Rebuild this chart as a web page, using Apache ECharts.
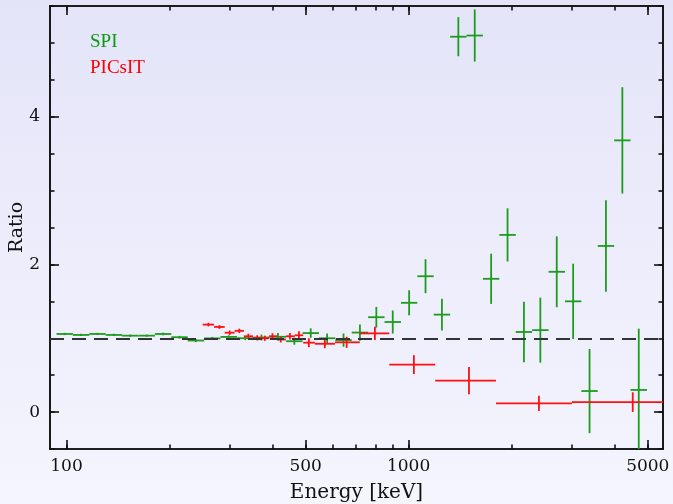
<!DOCTYPE html>
<html>
<head>
<meta charset="utf-8">
<script src="https://cdn.jsdelivr.net/npm/echarts@6/dist/echarts.min.js"></script>
<style>
html, body { margin: 0; padding: 0; }
#chart { width: 673px; height: 504px; }
</style>
</head>
<body>
<div id="chart"></div>
<script>
// SPI ratio: bin edges [keV], bin centres, ratio, 1 sigma error
const spiEdges = [93.5, 104.4, 116.6, 130.2, 145.4, 162.4, 181.3, 202.5, 226.1, 252.5, 282.0, 314.9,
  351.6, 392.7, 438.5, 489.7, 546.8, 610.6, 681.9, 761.5, 850.3, 949.6, 1060.4, 1184.2, 1322.4,
  1476.7, 1649.1, 1841.5, 2056.4, 2296.4, 2564.4, 2863.7, 3197.9, 3571.1, 3987.8, 4453.2, 4972.9]
const spiEnergy = [98.8, 110.3, 123.2, 137.6, 153.6, 171.6, 191.6, 214.0, 238.9, 266.8, 298.0, 332.8,
  371.5, 415.0, 463.4, 517.5, 577.8, 645.2, 720.6, 804.7, 898.6, 1003.5, 1120.6, 1251.4, 1397.4,
  1560.5, 1742.6, 1946.0, 2173.1, 2426.7, 2709.9, 3026.2, 3379.4, 3773.7, 4214.1, 4705.9]
const spiRatio = [1.058, 1.045, 1.058, 1.045, 1.035, 1.035, 1.058, 1.014, 0.969, 0.998, 1.018, 1.0,
  1.01, 1.02, 0.96, 1.07, 1.0, 0.975, 1.077, 1.285, 1.22, 1.48, 1.84, 1.32, 5.084,
  5.10, 1.805, 2.40, 1.085, 1.11, 1.90, 1.50, 0.285, 2.25, 3.68, 0.30]
const spiErr = [0.015, 0.015, 0.015, 0.015, 0.015, 0.015, 0.018, 0.018, 0.02, 0.02, 0.022, 0.025,
  0.04, 0.05, 0.048, 0.064, 0.064, 0.09, 0.11, 0.14, 0.156, 0.17, 0.23, 0.215, 0.265,
  0.353, 0.34, 0.36, 0.41, 0.44, 0.48, 0.51, 0.57, 0.62, 0.72, 0.83]

// PICsIT ratio
const picEdges = [250, 270, 290, 310, 330, 351, 372, 391, 413, 438, 465, 492, 532, 609, 720, 878,
  1196, 1800, 3000, 8000]
const picEnergy = [260, 280, 300, 320, 340, 361, 380, 400, 423, 450, 478, 511, 569, 659, 797, 1036,
  1501, 2404, 4519]
const picRatio = [1.185, 1.153, 1.075, 1.10, 1.027, 1.005, 1.0, 1.027, 0.983, 1.027, 1.04, 0.94,
  0.925, 0.945, 1.066, 0.643, 0.426, 0.118, 0.135]
const picErr = [0.025, 0.025, 0.03, 0.03, 0.035, 0.035, 0.035, 0.04, 0.04, 0.045, 0.055, 0.06,
  0.06, 0.075, 0.09, 0.128, 0.185, 0.104, 0.133]

const xRange = [89.5, 5540]
const yRange = [-0.5, 5.5]
const xMinorTicks = [100, 200, 300, 400, 500, 600, 700, 800, 900, 1000, 2000, 3000, 4000, 5000]
const xMajorTicks = [100, 500, 1000, 5000]
const yMinorTicks = [-0.5, 0, 0.5, 1, 1.5, 2, 2.5, 3, 3.5, 4, 4.5, 5, 5.5]
const yMajorTicks = [0, 2, 4]

const frameColor = '#111'
const fontFamily = '"DejaVu Serif", serif'

function toBars(energy, edges, ratio, err) {
  return energy.map((e, i) => [Math.log10(e), ratio[i], Math.log10(edges[i]), Math.log10(edges[i + 1]), err[i]])
}

function renderErrorBar(params, api) {
  const x = api.value(0)
  const y = api.value(1)
  const c = api.coord([x, y])
  const l = api.coord([api.value(2), y])
  const r = api.coord([api.value(3), y])
  const t = api.coord([x, y + api.value(4)])
  const b = api.coord([x, y - api.value(4)])
  const style = { stroke: api.visual('color'), lineWidth: 1.8 }
  return {
    type: 'group',
    children: [
      { type: 'line', shape: { x1: l[0], y1: c[1], x2: r[0], y2: c[1] }, style: style },
      { type: 'line', shape: { x1: c[0], y1: t[1], x2: c[0], y2: b[1] }, style: style }
    ]
  }
}

function xAxis(position, ticks, len, withLabels) {
  return {
    type: 'value',
    position: position,
    min: Math.log10(xRange[0]),
    max: Math.log10(xRange[1]),
    axisLine: { show: true, onZero: false, lineStyle: { color: frameColor, width: 1.6 } },
    axisTick: { show: true, inside: true, length: len, customValues: ticks.map(v => Math.log10(v)),
      lineStyle: { color: frameColor, width: 1.6 } },
    axisLabel: withLabels ? {
      show: true,
      customValues: xMajorTicks.map(v => Math.log10(v)),
      formatter: v => String(Math.round(Math.pow(10, v))),
      color: frameColor, fontFamily: fontFamily, fontSize: 17, margin: 9
    } : { show: false },
    splitLine: { show: false }
  }
}

function yAxis(position, ticks, len, withLabels) {
  return {
    type: 'value',
    position: position,
    min: yRange[0],
    max: yRange[1],
    axisLine: { show: true, onZero: false, lineStyle: { color: frameColor, width: 1.6 } },
    axisTick: { show: true, inside: true, length: len, customValues: ticks,
      lineStyle: { color: frameColor, width: 1.6 } },
    axisLabel: withLabels ? {
      show: true, customValues: yMajorTicks,
      color: frameColor, fontFamily: fontFamily, fontSize: 17, margin: 10
    } : { show: false },
    splitLine: { show: false }
  }
}

const chart = echarts.init(document.getElementById('chart'))

const bottomMajor = xAxis('bottom', xMajorTicks, 9, true)
bottomMajor.name = 'Energy [keV]'
bottomMajor.nameLocation = 'middle'
bottomMajor.nameGap = 34
bottomMajor.nameTextStyle = { color: frameColor, fontFamily: fontFamily, fontSize: 20 }

const leftMajor = yAxis('left', yMajorTicks, 9, true)
leftMajor.name = 'Ratio'
leftMajor.nameLocation = 'middle'
leftMajor.nameGap = 23
leftMajor.nameMoveOverlap = false
leftMajor.nameTextStyle = { color: frameColor, fontFamily: fontFamily, fontSize: 19 }

const option = {
  animation: false,
  graphic: [
    {
      type: 'rect', z: -10, silent: true,
      shape: { x: 0, y: 0, width: 673, height: 504 },
      style: {
        fill: new echarts.graphic.LinearGradient(0, 0, 0, 1, [
          { offset: 0, color: '#e4e4f9' },
          { offset: 1, color: '#f5f5fe' }
        ])
      }
    },
    { type: 'text', left: 90, top: 33, style: { text: 'SPI', fill: '#0c9a0c', font: '19px "Liberation Serif", serif' } },
    { type: 'text', left: 90, top: 59, style: { text: 'PICsIT', fill: '#ff0000', font: '19px "Liberation Serif", serif' } }
  ],
  grid: { left: 50, top: 6, right: 10, bottom: 55, containLabel: false, outerBoundsMode: 'none' },
  xAxis: [
    xAxis('bottom', xMinorTicks, 4.5, false),
    bottomMajor,
    xAxis('top', xMinorTicks, 4.5, false),
    xAxis('top', xMajorTicks, 9, false)
  ],
  yAxis: [
    yAxis('left', yMinorTicks, 4.5, false),
    leftMajor,
    yAxis('right', yMinorTicks, 4.5, false),
    yAxis('right', yMajorTicks, 9, false)
  ],
  series: [
    {
      type: 'line',
      data: [],
      z: 1,
      markLine: {
        silent: true,
        symbol: ['none', 'none'],
        label: { show: false },
        lineStyle: { type: [14, 8], color: '#333', width: 2 },
        data: [{ yAxis: 1 }]
      }
    },
    {
      name: 'SPI',
      type: 'custom',
      clip: true,
      itemStyle: { color: '#1c9c1c' },
      renderItem: renderErrorBar,
      encode: { x: 0, y: 1 },
      data: toBars(spiEnergy, spiEdges, spiRatio, spiErr),
      z: 3
    },
    {
      name: 'PICsIT',
      type: 'custom',
      clip: true,
      itemStyle: { color: '#ff1010' },
      renderItem: renderErrorBar,
      encode: { x: 0, y: 1 },
      data: toBars(picEnergy, picEdges, picRatio, picErr),
      z: 4
    }
  ]
}

chart.setOption(option)
</script>
</body>
</html>
